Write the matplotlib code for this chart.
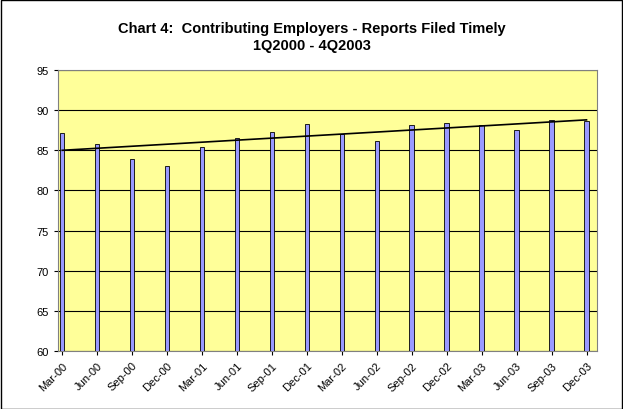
import matplotlib
matplotlib.use("Agg")
import matplotlib.pyplot as plt
import numpy as np

labels = ["Mar-00","Jun-00","Sep-00","Dec-00","Mar-01","Jun-01","Sep-01","Dec-01",
          "Mar-02","Jun-02","Sep-02","Dec-02","Mar-03","Jun-03","Sep-03","Dec-03"]
values = [87.2,85.8,83.9,83.0,85.4,86.5,87.3,88.3,87.0,86.2,88.2,88.4,88.1,87.5,88.8,88.7]

fig = plt.figure(figsize=(6.23,4.10), dpi=100)
fig.patch.set_facecolor("white")
fig.patches.append(plt.Rectangle((0.001,0.001),0.997,0.997,transform=fig.transFigure,
                                 fill=False,edgecolor="black",linewidth=1))
ax = fig.add_axes([58/623, 1-352/410, 539/623, 281/410])
ax.set_facecolor("#FFFF99")
x = np.arange(len(values))
ax.bar(x, values, width=0.13, color="#9999FF", edgecolor="black", linewidth=0.6, zorder=3)
coef = np.polyfit(x, values, 1)
xs = np.array([0, len(values)-1])
ax.plot(xs, np.polyval(coef, xs), color="black", linewidth=1.2, zorder=4)
ax.set_ylim(60,95)
ax.set_yticks(range(60,96,5))
ax.set_xlim(-0.12, 15.3)
ax.set_xticks(x)
ax.set_xticklabels(labels, rotation=45, ha="right", rotation_mode="anchor", fontsize=8, family="Liberation Sans")
for t in ax.get_yticklabels():
    t.set_fontsize(8); t.set_family("Liberation Sans")
ax.grid(axis="y", color="black", linewidth=0.8, zorder=0)
for s in ax.spines.values():
    s.set_color("#808080")
ax.tick_params(length=3)
fig.text(0.5, 1-22/410, "Chart 4:  Contributing Employers - Reports Filed Timely\n1Q2000 - 4Q2003",
         ha="center", va="top", fontsize=10.5, fontweight="bold", family="Liberation Sans", linespacing=1.3)
fig.savefig("out.png", dpi=100)
